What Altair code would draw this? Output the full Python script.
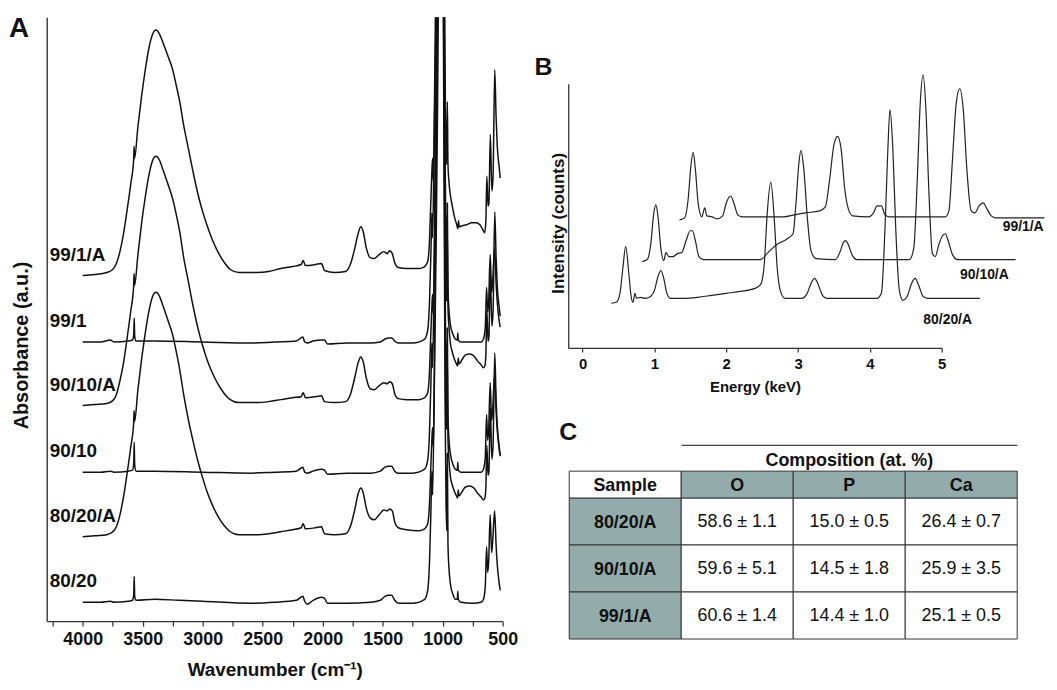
import altair as alt
import pandas as pd

FONT = "Liberation Sans"
INK = "#111111"

# ---------------- Panel A : FTIR spectra ----------------
A_SAMPLES = ["80/20", "80/20/A", "90/10", "90/10/A", "99/1", "99/1/A"]
A_OFFSETS = [19, 85, 150, 217, 281, 348]
A_TICKS = [4250, 4000, 3750, 3500, 3250, 3000, 2750, 2500, 2250, 2000,
           1750, 1500, 1250, 1000, 750, 500]

FTIR_99_1_A = [(4000,0),(3900,1),(3800,3),(3750,6),(3720,12),(3690,24),(3660,42),(3630,66),(3600,92),(3576,116),(3572,130),(3568,118),(3540,150),(3510,180),(3480,206),(3450,228),(3420,242),(3390,247),(3360,243),(3330,234),(3290,221),(3250,207),(3220,191),(3190,174),(3160,152),(3120,128),(3080,104),(3040,82),(3000,64),(2960,49),(2920,36),(2870,23),(2820,13),(2770,6),(2700,3),(2550,3),(2450,4),(2350,7),(2250,9),(2180,11),(2162,15),(2145,10),(2060,11),(2010,12),(1985,5),(1900,3),(1810,4),(1770,11),(1735,26),(1705,42),(1683,49),(1662,44),(1637,28),(1605,18),(1570,17),(1530,21),(1490,24),(1462,22),(1442,25),(1420,22),(1400,13),(1370,8),(1300,7),(1200,7),(1150,9),(1125,14),(1110,35),(1100,70),(1090,105),(1084,118),(1078,95),(1068,160),(1055,260),(1042,380),(1032,520),(1020,560),(1005,560),(995,480),(988,380),(982,240),(975,135),(968,112),(961,175),(956,112),(948,95),(935,80),(920,70),(900,58),(885,52),(874,47),(868,55),(862,49),(840,50),(800,51),(760,53),(720,53),(690,51),(665,46),(650,43),(640,55),(632,100),(622,70),(615,72),(603,142),(590,85),(580,100),(566,207),(555,160),(545,130),(530,110),(520,98)]

FTIR_90_10_A = [(4000,0),(3900,1),(3800,2),(3750,5),(3720,11),(3690,25),(3660,43),(3630,68),(3600,95),(3576,120),(3572,133),(3568,121),(3540,152),(3510,183),(3480,209),(3450,231),(3420,246),(3390,251),(3360,247),(3330,237),(3290,223),(3250,208),(3220,192),(3190,174),(3160,150),(3120,125),(3080,100),(3040,78),(3000,60),(2960,45),(2920,33),(2870,21),(2820,12),(2770,6),(2700,3),(2550,3),(2450,4),(2350,6),(2250,8),(2180,9),(2162,13),(2145,8),(2060,9),(2010,10),(1985,4),(1900,3),(1810,4),(1770,11),(1735,27),(1705,43),(1683,49),(1662,44),(1637,28),(1605,17),(1570,16),(1530,20),(1490,23),(1462,22),(1442,24),(1420,22),(1400,12),(1370,7),(1300,6),(1200,6),(1150,8),(1125,13),(1110,34),(1100,68),(1090,100),(1084,112),(1078,92),(1068,160),(1055,270),(1042,400),(1032,540),(1020,600),(1005,600),(995,500),(988,390),(982,240),(975,130),(968,105),(961,165),(956,100),(948,80),(935,62),(920,54),(900,46),(885,42),(876,40),(870,48),(864,42),(840,46),(810,51),(775,52),(740,50),(710,45),(680,41),(660,38),(648,40),(640,52),(632,96),(622,65),(615,68),(603,135),(590,80),(580,95),(566,195),(555,150),(545,120),(530,100),(520,90)]

FTIR_80_20_A = [(4000,0),(3900,1),(3800,2),(3750,5),(3720,10),(3690,22),(3660,40),(3630,64),(3600,90),(3576,114),(3572,127),(3568,116),(3540,148),(3510,178),(3480,204),(3450,226),(3420,241),(3390,246),(3360,242),(3330,232),(3290,218),(3250,203),(3220,186),(3190,167),(3160,144),(3120,118),(3080,96),(3040,76),(3000,59),(2960,44),(2920,32),(2870,20),(2820,11),(2770,5),(2700,2),(2550,2),(2450,3),(2350,5),(2250,7),(2180,9),(2162,13),(2145,8),(2060,9),(2010,10),(1985,3),(1900,2),(1810,3),(1770,10),(1735,26),(1705,43),(1683,49),(1662,44),(1637,29),(1605,19),(1570,17),(1530,22),(1490,27),(1462,26),(1442,28),(1420,26),(1400,15),(1370,9),(1300,7),(1200,6),(1150,8),(1125,13),(1110,33),(1100,66),(1090,98),(1084,110),(1078,90),(1068,165),(1055,290),(1042,440),(1032,600),(1020,700),(1005,700),(995,580),(988,430),(982,260),(975,135),(968,108),(961,168),(956,100),(948,78),(935,60),(920,52),(900,45),(885,41),(876,39),(870,47),(864,41),(840,45),(810,50),(775,51),(740,49),(710,44),(680,40),(660,37),(648,39),(640,50),(632,92),(622,62),(615,65),(603,130),(590,78),(580,92),(566,185),(555,140),(545,112),(530,92),(520,82)]

FTIR_99_1 = [(4000,0),(3850,0),(3770,2),(3740,0),(3620,1),(3585,2),(3575,8),(3571,24),(3567,6),(3555,1),(3400,1),(3000,0),(2600,-1),(2400,0),(2220,1),(2165,5),(2150,0),(2130,-1),(2080,1),(2010,2),(1985,2),(1960,-2),(1800,-1),(1600,-1),(1520,0),(1480,3),(1452,4),(1425,4),(1400,1),(1370,-1),(1250,-1),(1150,3),(1125,12),(1110,40),(1098,90),(1090,130),(1084,105),(1072,200),(1060,340),(1045,520),(1030,650),(1010,650),(995,540),(988,380),(980,190),(972,95),(966,68),(961,140),(956,55),(948,33),(935,17),(915,8),(895,3),(878,2),(874,9),(870,2),(850,0),(750,0),(680,0),(660,3),(645,15),(634,55),(625,30),(617,40),(604,88),(592,50),(584,60),(567,95),(555,60),(545,40),(530,22),(520,15)]

FTIR_90_10 = [(4000,0),(3850,0),(3770,1),(3740,0),(3620,1),(3585,2),(3575,9),(3571,30),(3567,7),(3555,1),(3400,1),(3000,0),(2600,-1),(2400,0),(2220,1),(2165,5),(2150,0),(2130,-1),(2080,1),(2010,3),(1985,2),(1960,-2),(1800,-1),(1600,-1),(1520,1),(1480,5),(1452,6),(1425,6),(1400,1),(1370,-1),(1250,-1),(1150,3),(1125,12),(1110,40),(1098,90),(1090,130),(1084,105),(1072,200),(1060,350),(1045,540),(1030,700),(1010,700),(995,560),(988,400),(980,190),(972,97),(966,70),(961,145),(956,58),(948,34),(935,18),(915,8),(895,3),(878,2),(874,10),(870,2),(850,0),(750,0),(680,0),(660,3),(645,15),(634,58),(625,32),(617,42),(604,90),(592,52),(584,62),(567,98),(555,62),(545,42),(530,24),(520,16)]

FTIR_80_20 = [(4000,0),(3850,0),(3770,1),(3740,0),(3620,1),(3585,2),(3575,8),(3571,26),(3567,6),(3555,2),(3400,3),(3200,2),(3000,1),(2600,-1),(2400,0),(2220,2),(2165,6),(2150,1),(2130,-2),(2080,2),(2010,5),(1985,4),(1960,-1),(1800,-1),(1600,0),(1520,2),(1480,6),(1452,7),(1425,7),(1400,2),(1370,-1),(1250,-1),(1150,3),(1125,12),(1110,40),(1098,92),(1090,132),(1084,108),(1072,205),(1060,360),(1045,560),(1030,760),(1010,760),(995,600),(988,420),(980,200),(972,100),(966,72),(961,150),(956,60),(948,35),(935,18),(915,8),(895,3),(878,3),(874,11),(870,3),(850,0),(750,-1),(680,0),(660,3),(645,16),(634,56),(625,30),(617,40),(604,88),(592,50),(584,60),(567,92),(555,58),(545,38),(530,20),(520,12)]

A_SPECTRA = [FTIR_80_20, FTIR_80_20_A, FTIR_90_10, FTIR_90_10_A, FTIR_99_1, FTIR_99_1_A]

# ---------------- Panel B : EDS spectra ----------------
B_SAMPLES = ["80/20/A", "90/10/A", "99/1/A"]
B_TICKS = [0, 0.5, 1, 1.5, 2, 2.5, 3, 3.5, 4, 4.5, 5]

EDS_80_20_A = [(0.40,45),(0.47,46),(0.52,55),(0.56,80),(0.60,102),(0.64,78),(0.67,55),(0.70,46),(0.73,55),(0.75,50),(0.80,51),(0.88,50),(0.95,52),(1.00,58),(1.05,72),(1.09,78),(1.13,70),(1.17,56),(1.22,50),(1.43,50),(1.60,51),(1.80,53),(2.00,55),(2.20,57),(2.40,60),(2.48,64),(2.53,85),(2.57,135),(2.62,167),(2.67,128),(2.71,80),(2.76,56),(2.82,50),(3.05,50),(3.12,54),(3.18,65),(3.23,70),(3.28,64),(3.34,53),(3.40,50),(4.10,50),(4.16,55),(4.21,120),(4.25,200),(4.28,240),(4.32,200),(4.36,120),(4.41,58),(4.46,48),(4.52,52),(4.58,65),(4.63,70),(4.68,63),(4.74,52),(4.80,50),(5.53,50)]

EDS_90_10_A = [(0.83,87),(0.90,89),(0.95,105),(0.99,135),(1.02,144),(1.05,132),(1.09,100),(1.13,88),(1.16,96),(1.20,92),(1.26,92),(1.32,95),(1.38,96),(1.44,108),(1.50,118),(1.53,118),(1.57,108),(1.62,92),(1.68,89),(2.48,89),(2.58,96),(2.70,104),(2.85,110),(2.93,115),(2.97,145),(3.01,185),(3.04,199),(3.08,180),(3.13,130),(3.18,98),(3.25,90),(3.52,89),(3.58,96),(3.63,106),(3.66,108),(3.70,104),(3.75,94),(3.82,89),(4.55,89),(4.61,100),(4.66,170),(4.70,245),(4.74,275),(4.78,240),(4.82,160),(4.87,95),(4.91,92),(4.96,104),(5.01,113),(5.05,115),(5.09,108),(5.15,94),(5.22,89),(6.03,89)]

EDS_99_1_A = [(1.35,129),(1.42,131),(1.47,150),(1.51,185),(1.54,197),(1.57,180),(1.61,145),(1.66,132),(1.70,141),(1.73,133),(1.80,132),(1.87,130),(1.95,133),(2.00,146),(2.06,153),(2.11,145),(2.16,134),(2.22,132),(2.80,132),(2.95,134),(3.10,136),(3.30,138),(3.38,142),(3.44,170),(3.50,205),(3.55,213),(3.60,200),(3.65,160),(3.70,140),(3.76,133),(3.98,132),(4.05,136),(4.10,143),(4.16,143),(4.21,134),(4.27,132),(5.05,132),(5.10,138),(5.15,190),(5.20,245),(5.25,261),(5.30,240),(5.35,180),(5.41,138),(5.46,136),(5.52,143),(5.58,146),(5.63,140),(5.69,133),(5.75,131),(6.43,131)]

B_SPECTRA = [EDS_80_20_A, EDS_90_10_A, EDS_99_1_A]

# ---------------- Panel C : composition table ----------------
C_SAMPLES = ["80/20/A", "90/10/A", "99/1/A"]
C_ELEMENTS = ["O", "P", "Ca"]
C_MEAN = {"O": [58.6, 59.6, 60.6], "P": [15.0, 14.5, 14.4], "Ca": [26.4, 25.9, 25.1]}
C_SD = {"O": [1.1, 5.1, 1.4], "P": [0.5, 1.8, 1.0], "Ca": [0.7, 3.5, 0.5]}
C_COLUMNS = ["Sample"] + C_ELEMENTS
TEAL = "#93abab"

# ---------------- tables ----------------
ftir = pd.DataFrame([
    {"sample": s, "wavenumber": wn, "absorbance": a + off}
    for s, off, spec in zip(A_SAMPLES, A_OFFSETS, A_SPECTRA) for wn, a in spec
])
eds = pd.DataFrame([
    {"sample": s, "energy": e, "intensity": v}
    for s, spec in zip(B_SAMPLES, B_SPECTRA) for e, v in spec
])
hdr = pd.DataFrame({"col": C_COLUMNS, "row": ["hdr"] * 4,
                    "fill": ["white"] + [TEAL] * 3})
body_cells = []
for i, s in enumerate(C_SAMPLES):
    body_cells.append({"col": "Sample", "row": s, "fill": TEAL, "txt": s, "bold": 1})
    for el in C_ELEMENTS:
        body_cells.append({"col": el, "row": s, "fill": "white",
                           "txt": f"{C_MEAN[el][i]:.1f} \u00b1 {C_SD[el][i]:.1f}", "bold": 0})
body = pd.DataFrame(body_cells)

# ---------------- scales ----------------
A_X = alt.Scale(domain=[4300, 500], range=[0, 459], zero=False, nice=False)
A_Y = alt.Scale(domain=[0, 608], range=[608, 0], zero=False, nice=False)
B_X = alt.Scale(domain=[-0.2, 5], range=[525, 901], zero=False, nice=False)
B_Y = alt.Scale(domain=[0, 266], range=[333, 67], zero=False, nice=False)
C_X = alt.Scale(domain=C_COLUMNS, range=[526, 977], paddingInner=0, paddingOuter=0)
C_YH = alt.Scale(domain=["hdr"], range=[457, 484], paddingInner=0, paddingOuter=0)
C_YB = alt.Scale(domain=C_SAMPLES, range=[484, 626], paddingInner=0, paddingOuter=0)

# ---------------- layers ----------------
a_lines = alt.Chart(ftir).mark_line(
    clip=True, interpolate="monotone", color=INK, strokeWidth=1.5
).encode(
    x=alt.X("wavenumber:Q", scale=A_X, axis=alt.Axis(
        orient="bottom", values=A_TICKS, format="d",
        labelExpr="datum.value % 500 === 0 ? datum.label : ''",
        labelFont=FONT, labelFontSize=18, labelFontWeight="bold", labelColor=INK,
        labelPadding=5, labelOverlap=False, labelFlush=False,
        tickSize=5, tickColor="#333", tickWidth=1.2,
        domainColor="#333", domainWidth=1.3, grid=False,
        title="Wavenumber (cm\u207b\u00b9)", titleFont=FONT, titleFontSize=19,
        titleFontWeight="bold", titleColor=INK, titleY=55, titleBaseline="alphabetic")),
    y=alt.Y("absorbance:Q", scale=A_Y, axis=alt.Axis(
        orient="left", ticks=False, labels=False, grid=False,
        domainColor="#444", domainWidth=1.5,
        title="Absorbance (a.u.)", titleFont=FONT, titleFontSize=20,
        titleFontWeight="bold", titleColor=INK, titleX=-19, titleY=330,
        titleAngle=270, titleBaseline="alphabetic", titleAlign="center")),
    detail="sample:N",
)

a_labels = alt.Chart(pd.DataFrame({"sample": A_SAMPLES, "offset": A_OFFSETS})).mark_text(
    align="left", baseline="middle", dy=-21, font=FONT, fontSize=19,
    fontWeight="bold", color=INK
).encode(
    x=alt.value(3),
    y=alt.Y("offset:Q", scale=A_Y, axis=None),
    text="sample:N",
)

b_lines = alt.Chart(eds).mark_line(
    interpolate="monotone", color="#222", strokeWidth=1.2
).encode(
    x=alt.X("energy:Q", scale=B_X, axis=alt.Axis(
        orient="bottom", offset=-275, values=B_TICKS, format="d",
        labelExpr="datum.value % 1 === 0 ? datum.label : ''",
        labelFont=FONT, labelFontSize=15, labelFontWeight="bold", labelColor=INK,
        labelPadding=5, labelOverlap=False, labelFlush=False,
        tickSize=4, tickColor="#333", tickWidth=1.2,
        domainColor="#333", domainWidth=1.3, grid=False,
        title="Energy (keV)", titleFont=FONT, titleFontSize=15,
        titleFontWeight="bold", titleColor=INK, titleY=44, titleBaseline="alphabetic")),
    y=alt.Y("intensity:Q", scale=B_Y, axis=alt.Axis(
        orient="left", offset=-525, ticks=False, labels=False, grid=False,
        domainColor="#333", domainWidth=1.3,
        title="Intensity (counts)", titleFont=FONT, titleFontSize=17,
        titleFontWeight="bold", titleColor=INK, titleX=-5, titleY=207,
        titleAngle=270, titleBaseline="alphabetic", titleAlign="center")),
    detail="sample:N",
)

b_labels = alt.layer(*[
    alt.Chart(pd.DataFrame({"t": [s]})).mark_text(
        align="center", baseline="middle", font=FONT, fontSize=14,
        fontWeight="bold", color=INK
    ).encode(x=alt.value(px), y=alt.value(py), text="t:N")
    for s, px, py in zip(B_SAMPLES, [907, 944, 983], [305, 260, 211])
])

c_hdr_rect = alt.Chart(hdr).mark_rect(stroke="#333", strokeWidth=1).encode(
    x=alt.X("col:N", scale=C_X, axis=None),
    y=alt.Y("row:N", scale=C_YH, axis=None),
    fill=alt.Fill("fill:N", scale=None),
)
c_hdr_text = alt.Chart(hdr).mark_text(
    font=FONT, fontSize=18, fontWeight="bold", color=INK, baseline="middle", dy=1
).encode(
    x=alt.X("col:N", scale=C_X, axis=None),
    y=alt.Y("row:N", scale=C_YH, axis=None),
    text="col:N",
)
c_body_rect = alt.Chart(body).mark_rect(stroke="#333", strokeWidth=1).encode(
    x=alt.X("col:N", scale=C_X, axis=None),
    y=alt.Y("row:N", scale=C_YB, axis=None),
    fill=alt.Fill("fill:N", scale=None),
)
c_body_name = alt.Chart(body[body["bold"] == 1]).mark_text(
    font=FONT, fontSize=18, fontWeight="bold", color=INK, baseline="middle", dy=2
).encode(
    x=alt.X("col:N", scale=C_X, axis=None),
    y=alt.Y("row:N", scale=C_YB, axis=None),
    text="txt:N",
)
c_body_val = alt.Chart(body[body["bold"] == 0]).mark_text(
    font=FONT, fontSize=18, color=INK, baseline="middle", dy=1
).encode(
    x=alt.X("col:N", scale=C_X, axis=None),
    y=alt.Y("row:N", scale=C_YB, axis=None),
    text="txt:N",
)

c_rule = alt.Chart(pd.DataFrame({"k": [0]})).mark_rule(color="#444", strokeWidth=1.2).encode(
    x=alt.value(639), x2=alt.value(977), y=alt.value(431)
)
c_title = alt.Chart(pd.DataFrame({"t": ["Composition (at. %)"]})).mark_text(
    font=FONT, fontSize=18, fontWeight="bold", color=INK, align="center",
    baseline="alphabetic"
).encode(x=alt.value(808), y=alt.value(452), text="t:N")

letters = alt.layer(*[
    alt.Chart(pd.DataFrame({"t": [t]})).mark_text(
        font=FONT, fontSize=fs, fontWeight="bold", color=INK, align="left",
        baseline="alphabetic"
    ).encode(x=alt.value(px), y=alt.value(py), text="t:N")
    for t, px, py, fs in [("A", -38, 20, 28), ("B", 491, 58, 25), ("C", 516, 426, 25)]
])

chart = alt.layer(
    a_lines, a_labels, b_lines, b_labels,
    c_body_rect, c_hdr_rect, c_hdr_text, c_body_name, c_body_val,
    c_rule, c_title, letters,
).resolve_scale(
    x="independent", y="independent"
).properties(
    width=459, height=608,
    autosize=alt.AutoSizeParams(type="none"),
    padding={"left": 39, "top": 7, "right": 550, "bottom": 59},
).configure_view(strokeWidth=0)

chart.save("out.html", embed_options={"renderer": "svg", "actions": False})
